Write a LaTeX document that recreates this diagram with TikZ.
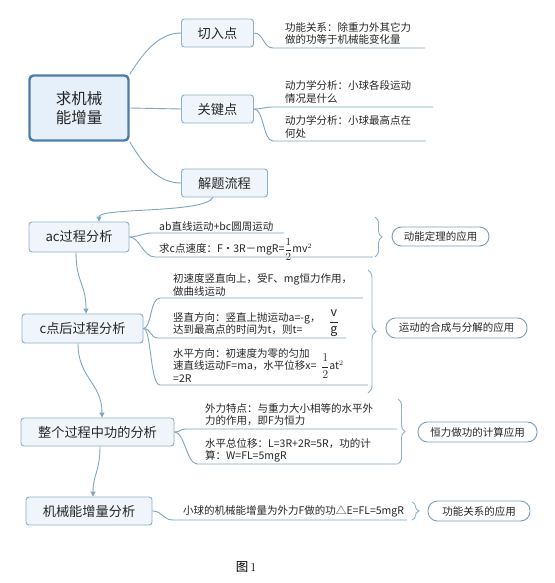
\documentclass[tikz,border=0pt]{standalone}
\usepackage{amsmath}
\usepackage{fontspec}
\setmainfont{Noto Sans CJK SC}
\usetikzlibrary{decorations.pathreplacing,arrows.meta}
\definecolor{lnc}{HTML}{7FA6C0}
\definecolor{bxd}{HTML}{8DB0C9}
\definecolor{bxf}{HTML}{EFF5FB}
\definecolor{rtd}{HTML}{4C7DA6}
\definecolor{rtf}{HTML}{E6F0FA}
\definecolor{txc}{HTML}{262626}
\definecolor{pld}{HTML}{7D9DB6}
\tikzset{
  topic/.style={draw=bxd, line width=0.9pt, fill=bxf, rounded corners=3pt, inner sep=0pt,
    font=\fontsize{13.2}{15}\selectfont, text=txc},
  rootbox/.style={draw=rtd, line width=2.4pt, fill=rtf, rounded corners=4pt, inner sep=0pt,
    align=center, font=\fontsize{15.5}{18.5}\selectfont, text=txc},
  leaf/.style={anchor=south west, inner sep=0pt, align=left,
    font=\fontsize{10.5}{12.3}\selectfont, text=txc},
  fracnode/.style={inner sep=0pt, font=\fontsize{12.5}{14}\selectfont, text=txc},
  pill/.style={draw=pld, line width=0.9pt, fill=white, rounded corners=9.5pt, inner sep=0pt,
    font=\fontsize{10.5}{12.3}\selectfont, text=txc},
  conn/.style={draw=lnc, line width=0.9pt},
  arr/.style={conn, -{Triangle[length=5pt,width=5pt]}},
  brc/.style={draw=bxd, line width=0.9pt, decorate, decoration={brace, amplitude=7pt}},
}
\begin{document}
\begin{tikzpicture}[x=1pt,y=-1pt]
\fill[white] (0,0) rectangle (554,583);
\useasboundingbox (0,0) rectangle (554,583);

% main topics
\node[rootbox, minimum width=99pt, minimum height=65pt] (rt) at (79,108) {求机械\\能增量};
\node[topic, minimum width=72pt, minimum height=28pt] (cut) at (217.5,33) {切入点};
\node[topic, minimum width=72pt, minimum height=28pt] (gj) at (217.5,109) {关键点};
\node[topic, minimum width=86pt, minimum height=28pt] (jt) at (224.5,183) {解题流程};
\node[topic, minimum width=100pt, minimum height=30pt] (ac) at (79,237) {ac过程分析};
\node[topic, minimum width=121pt, minimum height=29pt] (cp) at (82.5,328.5) {c点后过程分析};
\node[topic, minimum width=153pt, minimum height=28pt] (zg) at (97.5,432) {整个过程中功的分析};
\node[topic, minimum width=126pt, minimum height=28pt] (jx) at (89,511) {机械能增量分析};

% leaf texts
\node[leaf] (k1) at (285,44.5) {功能关系：除重力外其它力\\做的功等于机械能变化量};
\node[leaf] (k2) at (285,103.3) {动力学分析：小球各段运动\\情况是什么};
\node[leaf] (k3) at (285,138.3) {动力学分析：小球最高点在\\何处};
\node[leaf] (a1) at (159,232) {ab直线运动+bc圆周运动};
\node[leaf, anchor=base west] (a2) at (159,252.5) {求c点速度：F·3R－mgR=$\dfrac{1}{2}$mv$^{2}$};
\node[leaf] (c1) at (173,296.2) {初速度竖直向上，受F、mg恒力作用，\\做曲线运动};
\node[leaf] (c2) at (173,335.2) {竖直方向：竖直上抛运动a=-g，\\达到最高点的时间为t，则t=};
\node[fracnode] (c2f) at (334,323) {$\dfrac{\mathrm{v}}{\mathrm{g}}$};
\node[leaf] (c3) at (173,382.2) {水平方向：初速度为零的匀加\\速直线运动F=ma，水平位移x=\\=2R};
\node[fracnode, anchor=west] (c3f) at (321,366) {$\dfrac{1}{2}$\fontsize{10.5}{12}\selectfont at$^{2}$};
\node[leaf] (e1) at (205,426.2) {外力特点：与重力大小相等的水平外\\力的作用，即F为恒力};
\node[leaf] (e2) at (205,462.2) {水平总位移：L=3R+2R=5R，功的计\\算：W=FL=5mgR};
\node[leaf] (f1) at (183,517.2) {小球的机械能增量为外力F做的功△E=FL=5mgR};

% pills
\node[pill, minimum width=97pt, minimum height=19pt] (p1) at (440.5,236.5) {动能定理的应用};
\node[pill, minimum width=141pt, minimum height=20pt] (p2) at (456.5,328) {运动的合成与分解的应用};
\node[pill, minimum width=119pt, minimum height=20pt] (p3) at (477.5,432) {恒力做功的计算应用};
\node[pill, minimum width=102pt, minimum height=20pt] (p4) at (479,511) {功能关系的应用};

% underline ends
\coordinate (k1s) at (273,48);   \coordinate (k1e) at (425,48);
\coordinate (k2s) at (273,107);  \coordinate (k2e) at (433,107);
\coordinate (k3s) at (273,141);  \coordinate (k3e) at (426,141);
\coordinate (a1s) at (152,233);  \coordinate (a1e) at (284,233);
\coordinate (a2s) at (155,257);  \coordinate (a2e) at (373,257);
\coordinate (c1s) at (160,298);  \coordinate (c1e) at (363,298);
\coordinate (c2s) at (158,338);  \coordinate (c2e) at (346,338);
\coordinate (c3s) at (160,385);  \coordinate (c3e) at (368,385);
\coordinate (e1s) at (186,429);  \coordinate (e1e) at (397,429);
\coordinate (e2s) at (197,464);  \coordinate (e2e) at (397,464);
\coordinate (f1s) at (173,520);  \coordinate (f1e) at (407,520);

% root connectors
\draw[conn] (rt.north east) .. controls (145,50) and (160,33) .. (cut.west);
\draw[conn] (rt.east) -- (gj.west);
\draw[conn] (rt.south east) .. controls (145,168) and (160,183) .. (jt.west);

% leaf connectors
\draw[conn] (cut.east) .. controls +(10,0) and +(-10,0) .. (k1s) -- (k1e);
\draw[conn] (gj.east) .. controls +(8,0) and +(-8,0) .. (k2s) -- (k2e);
\draw[conn] (gj.east) .. controls +(10,0) and +(-10,0) .. (k3s) -- (k3e);
\draw[conn] (ac.east) .. controls +(8,0) and +(-8,0) .. (a1s) -- (a1e);
\draw[conn] (ac.east) .. controls +(10,0) and +(-12,0) .. (a2s) -- (a2e);
\draw[conn] (cp.east) .. controls +(8,0) and +(-10,0) .. (c1s) -- (c1e);
\draw[conn] (cp.east) .. controls +(8,0) and +(-8,0) .. (c2s) -- (c2e);
\draw[conn] (cp.east) .. controls +(8,0) and +(-10,0) .. (c3s) -- (c3e);
\draw[conn] (zg.east) .. controls +(6,0) and +(-6,0) .. (e1s) -- (e1e);
\draw[conn] (zg.east) .. controls +(10,0) and +(-10,0) .. (e2s) -- (e2e);
\draw[conn] (jx.east) .. controls +(10,0) and +(-10,0) .. (f1s) -- (f1e);

% flow arrows
\draw[arr] ([xshift=-11.5pt]jt.south) .. controls +(-8,16) and +(0,-14) .. ([xshift=20pt]ac.north);
\draw[arr] ([xshift=-3pt]ac.south) .. controls +(0,30) and +(0,-30) .. ([xshift=3.5pt]cp.north);
\draw[arr] ([xshift=-4.5pt]cp.south) .. controls +(0,35) and +(0,-35) .. ([xshift=4.5pt]zg.north);
\draw[arr] ([xshift=2.5pt]zg.south) .. controls +(0,25) and +(0,-22) .. ([xshift=4pt]jx.north);

% braces
\coordinate (b1t) at (375,217); \coordinate (b1b) at (375,257);
\coordinate (b2t) at (368,270); \coordinate (b2b) at (368,393);
\coordinate (b3t) at (398,399); \coordinate (b3b) at (398,464);
\coordinate (b4t) at (412,502); \coordinate (b4b) at (412,520);
\draw[brc] (b1t) -- (b1b);
\draw[brc, decoration={brace, amplitude=8pt}] (b2t) -- (b2b);
\draw[brc] (b3t) -- (b3b);
\draw[brc] (b4t) -- (b4b);

% caption
\node[inner sep=0pt, font=\fontsize{12.5}{14}\selectfont] (cap) at (246,567) {图$\,1$};
\end{tikzpicture}
\end{document}
